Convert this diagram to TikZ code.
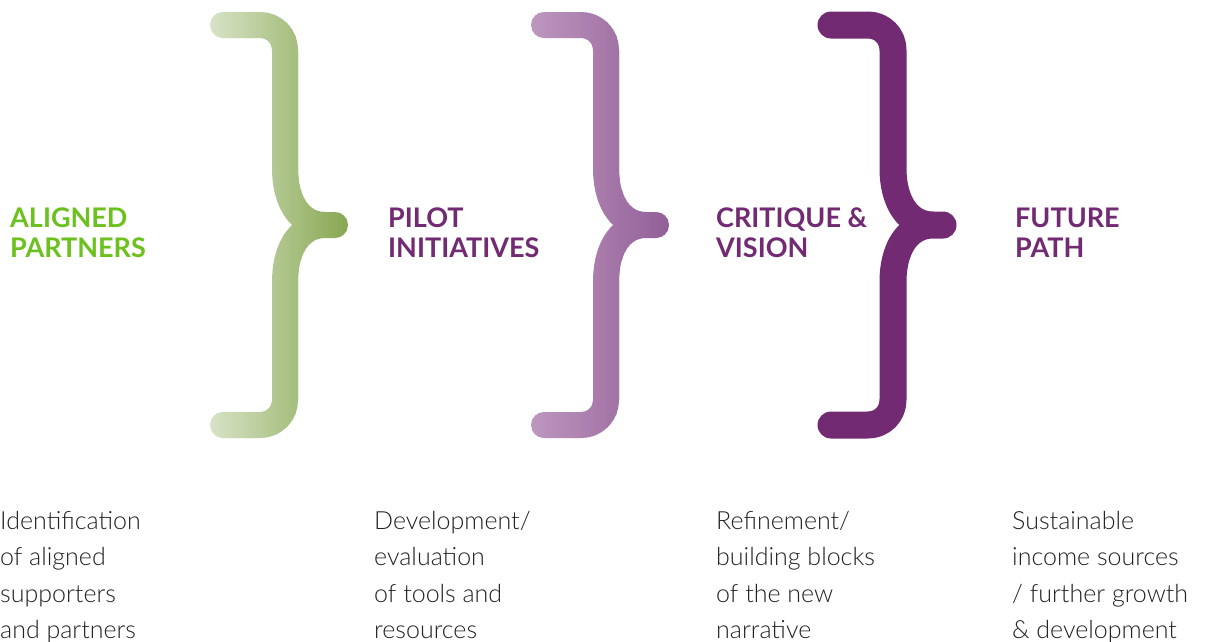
\documentclass[tikz,border=0pt]{standalone}
\usepackage{fontspec}
\setmainfont{Lato}
\newfontfamily\lightfont{Lato Light}
\definecolor{gA}{HTML}{D8E3C8}
\definecolor{gB}{HTML}{88A852}
\definecolor{pA}{HTML}{BE97BE}
\definecolor{pB}{HTML}{925F98}
\definecolor{plum}{HTML}{722A72}
\definecolor{lime}{HTML}{6CC11F}
\definecolor{bodytext}{HTML}{222222}
\def\bracepath#1{({#1-62},25) -- ({#1-25},25) .. controls ({#1-11},25) and (#1,36) .. (#1,50) -- (#1,168) .. controls (#1,202) and ({#1+15},225) .. ({#1+40},225) -- ({#1+50},225)
  ({#1+50},225) -- ({#1+40},225) .. controls ({#1+15},225) and (#1,248) .. (#1,282) -- (#1,400) .. controls (#1,414) and ({#1-11},425) .. ({#1-25},425) -- ({#1-62},425)}
\tikzset{
  bracestroke/.style={line width=26pt, line cap=round, line join=round},
  head/.style={anchor=north west, inner sep=0pt, align=left, font=\fontsize{27}{30}\selectfont\bfseries},
  bodytxt/.style={anchor=north west, inner sep=0pt, align=left, text=bodytext, font=\lightfont\fontsize{25}{36.5}\selectfont},
}
\begin{document}
\begin{tikzpicture}[x=1pt,y=-1pt]
\fill[white] (0,0) rectangle (1205,641);
\useasboundingbox (0,0) rectangle (1205,641);
% brace 1 (green gradient)
\foreach \i in {0,...,46} {
  \pgfmathsetmacro\p{100*\i/46}
  \begin{scope}
    \clip ({285-77+3*\i},0) rectangle ++(3.6,450);
    \draw[bracestroke, color=gB!\p!gA] \bracepath{285};
  \end{scope}
}
% brace 2 (light purple gradient)
\foreach \i in {0,...,46} {
  \pgfmathsetmacro\p{100*\i/46}
  \begin{scope}
    \clip ({606-77+3*\i},0) rectangle ++(3.6,450);
    \draw[bracestroke, color=pB!\p!pA] \bracepath{606};
  \end{scope}
}
% brace 3 (solid plum)
\draw[bracestroke, line width=27pt, color=plum] \bracepath{893};
% headings
\node[head, text=lime] (h1) at (10,208) {ALIGNED\\PARTNERS};
\node[head, text=plum] (h2) at (388,208) {PILOT\\INITIATIVES};
\node[head, text=plum] (h3) at (716,208) {CRITIQUE \&\\VISION};
\node[head, text=plum] (h4) at (1015,208) {FUTURE\\PATH};
% descriptions
\node[bodytxt] (d1) at (0,511) {Identification\\of aligned\\supporters\\and partners};
\node[bodytxt] (d2) at (374,511) {Development/\\evaluation\\of tools and\\resources};
\node[bodytxt] (d3) at (716,511) {Refinement/\\building blocks\\of the new\\narrative};
\node[bodytxt] (d4) at (1012,511) {Sustainable\\income sources\\/ further growth\\\& development};
\end{tikzpicture}
\end{document}
